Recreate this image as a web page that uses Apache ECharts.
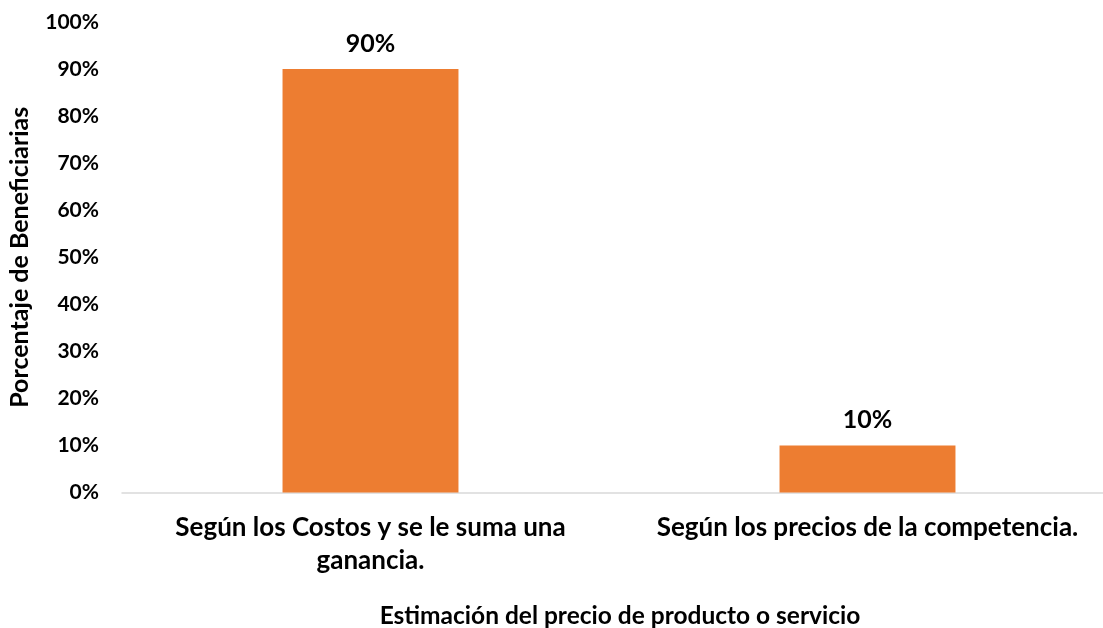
<!DOCTYPE html>
<html><head><meta charset="utf-8">
<script src="https://cdn.jsdelivr.net/npm/echarts@6/dist/echarts.min.js"></script>
<style>html,body{margin:0;padding:0;background:#fff}#c{width:1103px;height:628px}</style>
</head><body><div id="c"></div>
<script>
const categories = ["Según los Costos y se le suma una\nganancia.", "Según los precios de la competencia."];
const values = [90, 10];
const yTicks = [0, 10, 20, 30, 40, 50, 60, 70, 80, 90, 100];
const yAxisTitle = "Porcentaje de Beneficiarias";
const xAxisTitle = "Estimación del precio de producto o servicio";

const FONT = "Lato";
const chart = echarts.init(document.getElementById('c'));
chart.setOption({
  animation: false,
  title: {
    text: xAxisTitle, left: 620, top: 604, textAlign: 'center', padding: 0,
    textStyle: {fontFamily: FONT, fontWeight: 'bold', fontSize: 24.5, color: '#000'}
  },
  grid: {left: 122, top: 22, width: 994, height: 470.5, outerBoundsMode: 'none', containLabel: false},
  xAxis: {
    type: 'category', data: categories,
    axisLine: {lineStyle: {color: '#d9d9d9', width: 1.5}},
    axisTick: {show: false},
    axisLabel: {fontFamily: FONT, fontWeight: 'bold', fontSize: 26, color: '#000', margin: 19, lineHeight: 33, interval: 0}
  },
  yAxis: {
    type: 'value', min: 0, max: 100, interval: 10,
    name: yAxisTitle, nameLocation: 'middle', nameGap: 90, nameRotate: 90,
    nameTextStyle: {fontFamily: FONT, fontWeight: 'bold', fontSize: 25, color: '#000'},
    axisLine: {show: false}, axisTick: {show: false}, splitLine: {show: false},
    axisLabel: {fontFamily: FONT, fontWeight: 'bold', fontSize: 21, color: '#000', margin: 23,
      formatter: v => yTicks.includes(v) ? v + '%' : ''}
  },
  series: [{
    type: 'bar', data: values, barWidth: '35.4%',
    itemStyle: {color: '#ED7D31'},
    label: {show: true, position: 'top', distance: 13, formatter: p => p.value + '%',
      fontFamily: FONT, fontWeight: 'bold', fontSize: 25, color: '#000'}
  }]
});
</script></body></html>
